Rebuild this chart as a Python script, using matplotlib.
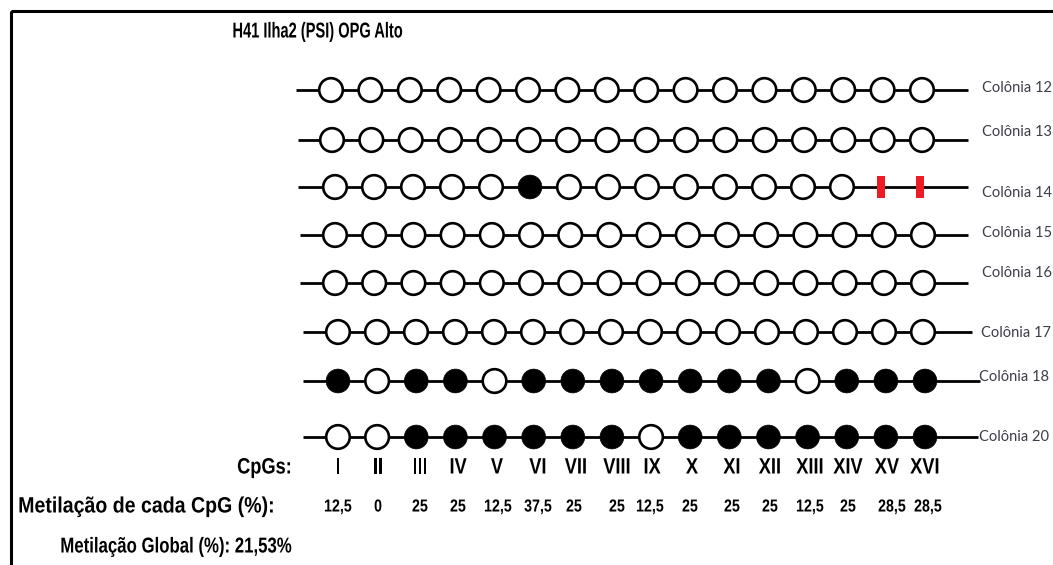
import matplotlib
matplotlib.use('Agg')
import matplotlib.pyplot as plt
from matplotlib.patches import Circle, Rectangle
from matplotlib.patheffects import AbstractPathEffect
from matplotlib.transforms import Affine2D

# methylation map: o = unmethylated, f = methylated, x = not sequenced
colonies = ['Colônia 12', 'Colônia 13', 'Colônia 14', 'Colônia 15',
            'Colônia 16', 'Colônia 17', 'Colônia 18', 'Colônia 20']
states = ['oooooooooooooooo',
          'oooooooooooooooo',
          'ooooofooooooooxx',
          'oooooooooooooooo',
          'oooooooooooooooo',
          'oooooooooooooooo',
          'foffofffffffofff',
          'ooffffffofffffff']
cpgs = ['I', 'II', 'III', 'IV', 'V', 'VI', 'VII', 'VIII', 'IX', 'X',
        'XI', 'XII', 'XIII', 'XIV', 'XV', 'XVI']
cpg_meth = [12.5, 0, 25, 25, 12.5, 37.5, 25, 25, 12.5, 25, 25, 25, 12.5, 25, 28.5, 28.5]
global_meth = 21.53
title = 'H41 Ilha2 (PSI) OPG Alto'

# layout (pixel units, y down)
row_y = [90, 140, 187, 235, 283, 332, 381, 437]
label_y = [88, 132, 193, 233, 273, 333, 377, 437]
row_x0 = [331, 332, 335, 335, 335, 338, 338, 338]
row_x1 = [922, 922, 920, 923, 923, 923, 925, 925]
line_x0 = [296, 298, 298, 300, 300, 303, 303, 303]
line_x1 = [968, 968, 968, 968, 968, 972, 980, 978]
label_x = [982, 982, 982, 982, 982, 981, 979, 979]
col_x = [338, 378, 420, 458, 497, 538, 576, 617, 652, 692, 732, 770, 810, 848, 887, 925]
val_x = [338, 378, 420, 458, 498, 538, 574, 617, 650, 690, 732, 770, 810, 848, 892, 928]


class Squeeze(AbstractPathEffect):
    """Narrow the glyphs horizontally around the text anchor."""
    def __init__(self, sx=0.82, anchor='left'):
        super().__init__()
        self.sx = sx
        self.anchor = anchor

    def draw_path(self, renderer, gc, tpath, affine, rgbFace=None):
        bb = tpath.get_extents(affine)
        x0 = {'left': bb.x0, 'center': 0.5 * (bb.x0 + bb.x1), 'right': bb.x1}[self.anchor]
        sq = Affine2D().translate(-x0, 0).scale(self.sx, 1).translate(x0, 0)
        renderer.draw_path(gc, tpath, affine + sq, rgbFace)


def narrow_text(ax, x, y, s, size, ha='left', sx=0.82):
    ax.text(x, y, s, family=['Liberation Sans', 'DejaVu Sans'], weight='bold', fontsize=size,
            va='center', ha=ha, path_effects=[Squeeze(sx, ha)])


W, H = 1053, 565
fig = plt.figure(figsize=(W / 100, H / 100), dpi=100)
ax = fig.add_axes([0, 0, 1, 1])
ax.set_xlim(0, W)
ax.set_ylim(H, 0)
ax.axis('off')

# outer frame (runs past the right and bottom edges)
ax.add_patch(Rectangle((11, 11), 1100, 600, fill=False, lw=2.2, ec='black'))

narrow_text(ax, 232, 32, title, 15.5, sx=0.68)

for r, name in enumerate(colonies):
    y = row_y[r]
    ax.plot([line_x0[r], line_x1[r]], [y, y], color='black', lw=2.0, solid_capstyle='butt', zorder=1)
    step = (row_x1[r] - row_x0[r]) / (len(cpgs) - 1)
    for i, s in enumerate(states[r]):
        x = row_x0[r] + i * step
        if s == 'o':
            ax.add_patch(Circle((x, y), 11.8, fc='white', ec='black', lw=1.9, zorder=2))
        elif s == 'f':
            ax.add_patch(Circle((x, y), 11.9, fc='black', ec='black', lw=0.5, zorder=2))
        else:
            ax.add_patch(Rectangle((x - 4, y - 11), 8, 22, fc='#ed1c24', ec='none', zorder=2))
    ax.text(label_x[r], label_y[r], name, family=['Lato', 'DejaVu Sans'], fontsize=10.5,
            color='#3d3d4a', va='center', ha='left')

narrow_text(ax, 292, 468, 'CpGs:', 16, ha='right')
for x, c in zip(col_x, cpgs):
    narrow_text(ax, x, 468, c, 16, ha='center')

narrow_text(ax, 18, 507, 'Metilação de cada CpG (%):', 16, sx=0.88)
for x, v in zip(val_x, cpg_meth):
    narrow_text(ax, x, 507, ('%g' % v).replace('.', ','), 12.5, ha='center')

narrow_text(ax, 60, 547, 'Metilação Global (%): ' + ('%.2f' % global_meth).replace('.', ',') + '%',
            15.5, sx=0.78)

fig.savefig('out.png', dpi=100, facecolor='white')
